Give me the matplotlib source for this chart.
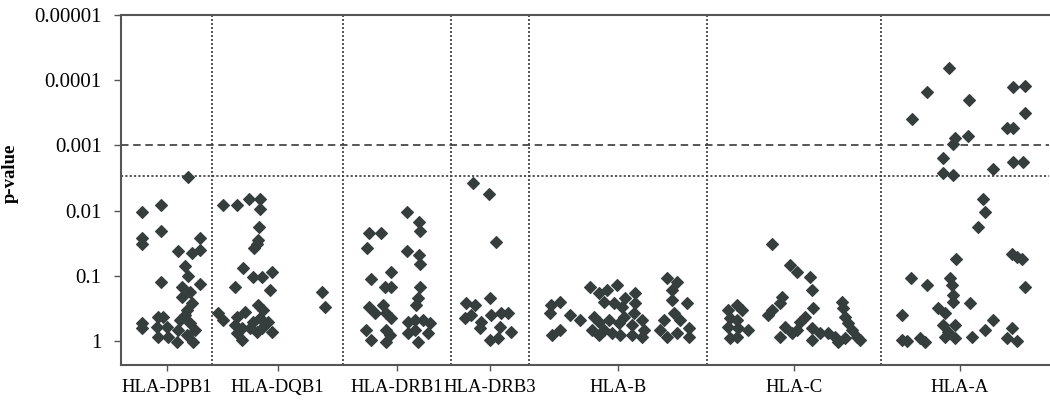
import numpy as np
import matplotlib
matplotlib.use("Agg")
import matplotlib.pyplot as plt

plt.rcParams['font.family'] = ['Liberation Serif', 'DejaVu Serif']

# ---------------- data ----------------
categories = ["HLA-DPB1", "HLA-DQB1", "HLA-DRB1", "HLA-DRB3", "HLA-B", "HLA-C", "HLA-A"]
# category boundaries along the position axis
bounds = [0, 91, 222, 330, 408, 586, 760, 918]

# positions along x and -log10(p) for each locus
dpb1_pos = [67, 21, 40, 40, 21, 21, 57, 71, 79, 79, 64, 67, 40, 79, 61, 69, 61, 71, 66,
            21, 21, 37, 42, 36, 46, 37, 47, 56, 69, 74, 66, 72, 59, 64, 57]
dpb1_nlp = [2.51, 1.98, 2.08, 1.69, 1.58, 1.48, 1.38, 1.35, 1.40, 1.58, 1.15, 1.00, 0.91, 0.88,
            0.82, 0.75, 0.68, 0.58, 0.48, 0.28, 0.20, 0.37, 0.37, 0.22, 0.22, 0.06, 0.06, -0.02,
            0.28, 0.17, 0.09, -0.02, 0.32, 0.40, 0.17]

dqb1_pos = [102, 116, 128, 139, 139, 138, 137, 136, 133, 122, 132, 141, 151, 149, 114, 201, 204,
            137, 142, 97, 102, 116, 124, 114, 121, 132, 139, 147, 151, 116, 121, 129, 141, 136]
dqb1_nlp = [2.08, 2.08, 2.18, 2.17, 2.02, 1.75, 1.55, 1.48, 1.42, 1.12, 0.98, 0.98, 1.06, 0.78,
            0.83, 0.75, 0.52, 0.55, 0.48, 0.43, 0.32, 0.37, 0.45, 0.25, 0.20, 0.29, 0.35, 0.29,
            0.14, 0.12, 0.02, 0.20, 0.20, 0.14]

drb1_pos = [286, 298, 299, 248, 260, 246, 286, 298, 299, 270, 250, 264, 270, 299, 297, 295, 248,
            262, 265, 254, 270, 287, 294, 302, 309, 245, 250, 265, 269, 265, 287, 297, 307, 294]
drb1_nlp = [1.97, 1.82, 1.68, 1.66, 1.66, 1.43, 1.38, 1.32, 1.18, 1.06, 0.95, 0.83, 0.83, 0.82,
            0.66, 0.55, 0.52, 0.55, 0.43, 0.43, 0.35, 0.29, 0.32, 0.32, 0.28, 0.17, 0.02, 0.17,
            0.09, -0.02, 0.12, -0.02, 0.12, 0.17]

drb3_pos = [352, 368, 375, 345, 354, 369, 344, 350, 360, 370, 380, 387, 359, 379, 390, 369, 377]
drb3_nlp = [2.42, 2.26, 1.52, 0.58, 0.55, 0.66, 0.35, 0.40, 0.29, 0.40, 0.43, 0.43, 0.20, 0.22,
            0.14, 0.02, 0.05]

b_pos = [430, 429, 439, 431, 439, 449, 459, 469, 478, 486, 496, 483, 493, 473, 478, 483, 478, 471,
         488, 498, 499, 491, 501, 503, 514, 514, 513, 511, 511, 521, 523, 521, 504, 546, 556, 551,
         551, 566, 543, 553, 559, 539, 546, 556, 568, 568]
b_nlp = [0.55, 0.43, 0.60, 0.09, 0.17, 0.40, 0.32, 0.83, 0.74, 0.78, 0.86, 0.60, 0.58, 0.37, 0.29,
         0.17, 0.09, 0.17, 0.32, 0.28, 0.09, 0.12, 0.52, 0.37, 0.74, 0.58, 0.43, 0.25, 0.09, 0.32,
         0.17, 0.06, 0.66, 0.97, 0.91, 0.78, 0.63, 0.58, 0.32, 0.43, 0.32, 0.17, 0.06, 0.12, 0.20,
         0.06]

c_pos = [616, 621, 607, 609, 616, 607, 617, 627, 609, 616, 651, 669, 676, 689, 691, 661, 659, 651,
         647, 692, 664, 659, 671, 679, 684, 676, 691, 691, 699, 707, 714, 721, 722, 724, 727, 731,
         724, 736, 739, 717]
c_nlp = [0.55, 0.48, 0.48, 0.35, 0.32, 0.22, 0.20, 0.17, 0.05, 0.06, 1.48, 1.17, 1.06, 0.98, 0.78,
         0.68, 0.58, 0.48, 0.40, 0.51, 0.22, 0.06, 0.12, 0.29, 0.37, 0.17, 0.20, 0.02, 0.12, 0.12,
         0.06, 0.60, 0.51, 0.37, 0.28, 0.17, 0.05, 0.06, 0.02, -0.02]

a_pos = [828, 806, 791, 848, 892, 904, 904, 886, 892, 834, 847, 832, 822, 822, 832, 872, 892, 902,
         862, 864, 857, 835, 891, 896, 901, 904, 790, 806, 829, 831, 832, 832, 849, 817, 824, 781,
         822, 834, 827, 864, 872, 851, 781, 786, 799, 804, 824, 834, 891, 886, 896]
a_nlp = [4.18, 3.82, 3.40, 3.69, 3.89, 3.91, 3.49, 3.26, 3.26, 3.12, 3.15, 3.02, 2.80, 2.57, 2.55,
         2.63, 2.74, 2.74, 2.17, 1.98, 1.75, 1.26, 1.34, 1.28, 1.26, 0.82, 0.97, 0.86, 0.97, 0.86,
         0.71, 0.60, 0.58, 0.51, 0.43, 0.40, 0.25, 0.25, 0.14, 0.17, 0.32, 0.06, 0.02, 0.00, 0.05,
         -0.02, 0.06, 0.05, 0.20, 0.05, 0.00]

series = [(dpb1_pos, dpb1_nlp), (dqb1_pos, dqb1_nlp), (drb1_pos, drb1_nlp), (drb3_pos, drb3_nlp),
          (b_pos, b_nlp), (c_pos, c_nlp), (a_pos, a_nlp)]

threshold_strict = 0.001
threshold_loose = 0.003

ytick_vals = [1e-5, 1e-4, 1e-3, 1e-2, 1e-1, 1]
ytick_labels = ["0.00001", "0.0001", "0.001", "0.01", "0.1", "1"]

# ---------------- figure ----------------
W, H = 1050, 401
fig = plt.figure(figsize=(W / 100, H / 100), dpi=100)
ax = fig.add_axes([121 / W, 1 - 365 / H, (1049 - 121) / W, (365 - 15) / H])

mark_color = '#353d3d'
line_color = '#3a3a3a'

ax.set_yscale('log')
ax.set_ylim(10 ** 0.37, 1e-5)
ax.set_xlim(0, 928)

for pos, nlp in series:
    ax.plot(pos, 10 ** (-np.asarray(nlp)), linestyle='none', marker='D', ms=6.4,
            color=mark_color, mec=mark_color, mew=0.8, zorder=3)

# category separators
for b in bounds[1:-1]:
    ax.axvline(b, color=line_color, lw=1.2, linestyle=(0, (1.2, 1.2)), zorder=1)

ax.axhline(threshold_strict, color=line_color, lw=1.2, linestyle=(0, (4.5, 2.8)), zorder=1)
ax.axhline(threshold_loose, color=line_color, lw=1.2, linestyle=(0, (1.3, 1.3)), zorder=1)

centers = [(bounds[i] + bounds[i + 1]) / 2 for i in range(len(categories))]
ax.set_xticks(centers)
ax.set_xticklabels(categories, fontsize=13.5)
ax.set_yticks(ytick_vals)
ax.set_yticklabels(ytick_labels, fontsize=15)
ax.minorticks_off()
ax.tick_params(axis='y', direction='out', length=5, width=1.0, color='#555555', pad=9)
ax.tick_params(axis='x', direction='out', length=4, width=1.0, color='#555555', pad=6)

for s in ['left', 'bottom', 'top']:
    ax.spines[s].set_color('#555555')
    ax.spines[s].set_linewidth(1.5)
ax.spines['right'].set_visible(False)

ax.set_ylabel('p-value', fontsize=13.5, fontweight='bold')
ax.yaxis.set_label_coords((19 - 121) / 928, (365 - 173) / 350)

fig.savefig('out.png', dpi=100)
